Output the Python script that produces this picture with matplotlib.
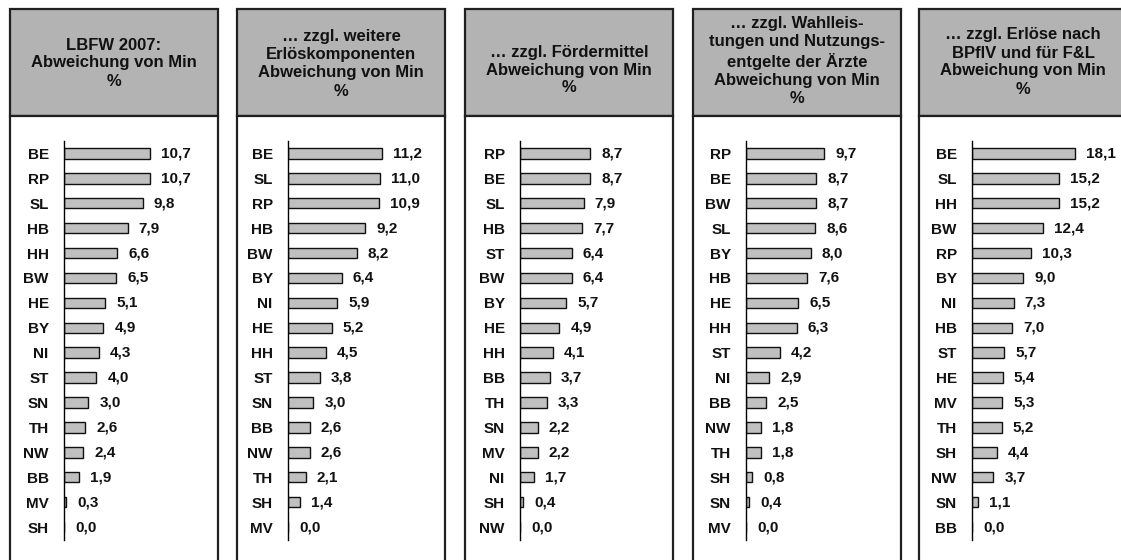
import matplotlib
matplotlib.use("Agg")
import matplotlib.pyplot as plt
from matplotlib.patches import Rectangle

plt.rcParams["font.family"] = ["Liberation Sans", "DejaVu Sans"]
plt.rcParams["font.weight"] = "bold"

# --- data -----------------------------------------------------------------
titles = [
    "LBFW 2007:\nAbweichung von Min\n%",
    "… zzgl. weitere\nErlöskomponenten\nAbweichung von Min\n%",
    "… zzgl. Fördermittel\nAbweichung von Min\n%",
    "… zzgl. Wahlleis-\ntungen und Nutzungs-\nentgelte der Ärzte\nAbweichung von Min\n%",
    "… zzgl. Erlöse nach\nBPflV und für F&L\nAbweichung von Min\n%",
]

states_1 = ["BE", "RP", "SL", "HB", "HH", "BW", "HE", "BY", "NI", "ST", "SN", "TH", "NW", "BB", "MV", "SH"]
values_1 = [10.7, 10.7, 9.8, 7.9, 6.6, 6.5, 5.1, 4.9, 4.3, 4.0, 3.0, 2.6, 2.4, 1.9, 0.3, 0.0]

states_2 = ["BE", "SL", "RP", "HB", "BW", "BY", "NI", "HE", "HH", "ST", "SN", "BB", "NW", "TH", "SH", "MV"]
values_2 = [11.2, 11.0, 10.9, 9.2, 8.2, 6.4, 5.9, 5.2, 4.5, 3.8, 3.0, 2.6, 2.6, 2.1, 1.4, 0.0]

states_3 = ["RP", "BE", "SL", "HB", "ST", "BW", "BY", "HE", "HH", "BB", "TH", "SN", "MV", "NI", "SH", "NW"]
values_3 = [8.7, 8.7, 7.9, 7.7, 6.4, 6.4, 5.7, 4.9, 4.1, 3.7, 3.3, 2.2, 2.2, 1.7, 0.4, 0.0]

states_4 = ["RP", "BE", "BW", "SL", "BY", "HB", "HE", "HH", "ST", "NI", "BB", "NW", "TH", "SH", "SN", "MV"]
values_4 = [9.7, 8.7, 8.7, 8.6, 8.0, 7.6, 6.5, 6.3, 4.2, 2.9, 2.5, 1.8, 1.8, 0.8, 0.4, 0.0]

states_5 = ["BE", "SL", "HH", "BW", "RP", "BY", "NI", "HB", "ST", "HE", "MV", "TH", "SH", "NW", "SN", "BB"]
values_5 = [18.1, 15.2, 15.2, 12.4, 10.3, 9.0, 7.3, 7.0, 5.7, 5.4, 5.3, 5.2, 4.4, 3.7, 1.1, 0.0]

states = [states_1, states_2, states_3, states_4, states_5]
values = [values_1, values_2, values_3, values_4, values_5]

# --- layout (pixels) ----------------------------------------------------------
W, H = 1121, 560
panel_left = [10, 237, 465, 693, 919]
panel_w = 208
header_top, header_bot = 9, 116
axis_x = [64, 288, 520, 746, 972]
x_max = [12, 12, 10, 10, 20]
px_per_unit = [8.04, 8.37, 8.05, 8.07, 5.7]
axis_top, axis_bot = 141, 539.5
header_center = [63, 64, 70, 61, 62]


def fx(px):
    return px / W


def fy(py):
    return 1 - py / H


fig = plt.figure(figsize=(W / 100, H / 100), dpi=100)

for i in range(5):
    left = panel_left[i]
    # header box
    fig.patches.append(Rectangle((fx(left), fy(header_bot)), fx(panel_w), (header_bot - header_top) / H,
                                 transform=fig.transFigure, facecolor="#b3b3b3", edgecolor="#202020",
                                 linewidth=1.6, zorder=-2))
    # body box (runs past the bottom edge)
    fig.patches.append(Rectangle((fx(left), fy(H + 10)), fx(panel_w), (H + 10 - header_bot) / H,
                                 transform=fig.transFigure, facecolor="white", edgecolor="#202020",
                                 linewidth=1.6, zorder=-2))
    fig.text(fx(left + panel_w / 2), fy(header_center[i]), titles[i], ha="center", va="center",
             fontsize=12, fontweight="bold", linespacing=1.25, color="#111111")

    width_px = x_max[i] * px_per_unit[i]
    ax = fig.add_axes([fx(axis_x[i]), fy(axis_bot), fx(width_px), (axis_bot - axis_top) / H])
    ax.set_zorder(2)
    ax.patch.set_visible(False)
    y = list(range(len(states[i])))
    ax.barh(y, values[i], height=0.42, color="#c0c0c0", edgecolor="#111111", linewidth=1.0)
    ax.set_xlim(0, x_max[i])
    ax.set_ylim(len(y) - 0.5, -0.5)
    ax.set_yticks(y)
    ax.set_yticklabels(states[i], fontsize=11, fontweight="bold", color="#111111")
    ax.tick_params(axis="y", length=0, pad=11)
    ax.set_xticks([])
    for side in ["top", "right", "bottom"]:
        ax.spines[side].set_visible(False)
    ax.spines["left"].set_linewidth(1.0)
    for yy, v in zip(y, values[i]):
        ax.annotate(f"{v:.1f}".replace(".", ","), (v, yy), xytext=(8, 0), textcoords="offset points",
                    ha="left", va="center", fontsize=11, fontweight="bold", color="#111111",
                    annotation_clip=False)

fig.savefig("out.png", dpi=100)
